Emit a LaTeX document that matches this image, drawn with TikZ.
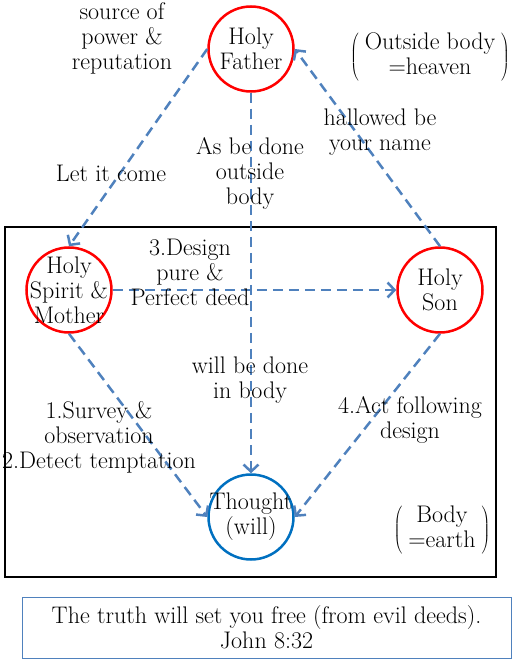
\documentclass[tikz,border=0pt]{standalone}
\usepackage{tikz}
\usetikzlibrary{arrows.meta,shapes}
\definecolor{flowblue}{RGB}{79,129,189}
\definecolor{willblue}{RGB}{0,112,192}
\tikzset{every node/.style={font=\fontsize{24}{25}\selectfont,align=center,inner sep=0pt},
  holy/.style={circle,draw=red,line width=2.5pt,minimum size=85pt},
  will/.style={holy,draw=willblue},
  flow/.style={draw=flowblue,line width=2.5pt,dash pattern=on 10pt off 6pt,
    -{Straight Barb[length=7pt,width=15pt,line width=2.5pt]}}}

\begin{document}
\begin{tikzpicture}[x=1pt,y=-1pt]
    \useasboundingbox (0,0) rectangle (519,663);
    \draw[line width=2.5pt] (5,227) rectangle (496,577);
    \node[holy,label={center:Holy\\Father}] (1) at (251,49) {};
    \node[holy,label={center:Holy\\Spirit \&\\Mother}] (2) at (69,290) {};
    \node[holy,label={center:Holy\\Son}] (3) at (440,290) {};
    \node[will,label={center:Thought\\(will)}] (4) at (251,517) {};
    \path
    (1.west) edge[flow] (2.north)
    (3.north) edge[flow] (1.east)
    (1.south) edge[flow] (4.north)
    (2.east) edge[flow] (3.west)
    (2.south) edge[flow] (4.west)
    (3.south) edge[flow] (4.east)
    ;
    % labels
    \node (src) at (122,38) {source of\\power \&\\reputation};
    \node (come) at (111,173) {Let it come};
    \node (outb) at (250,173) {As be done\\outside\\body};
    \node (name) at (380,132) {hallowed be\\your name};
    \node (heaven) at (430,57) {$\left(\mbox{\begin{tabular}{c}Outside body\\=heaven\end{tabular}}\right)$};
    \node (design) at (190,272) {3.Design\\pure \&\\Perfect deed};
    \node (inb) at (250,380) {will be done\\in body};
    \node (survey) at (99,437) {1.Survey \&\\observation\\2.Detect temptation};
    \node (act) at (410,420) {4.Act following\\design};
    \node (earth) at (442,530) {$\left(\mbox{\begin{tabular}{c}Body\\=earth\end{tabular}}\right)$};
    \node[draw=flowblue,line width=0.8pt,minimum width=489pt,minimum height=61pt] (truth) at (266.5,627.5)
      {The truth will set you free (from evil deeds).\\John 8:32};
\end{tikzpicture}
\end{document}
